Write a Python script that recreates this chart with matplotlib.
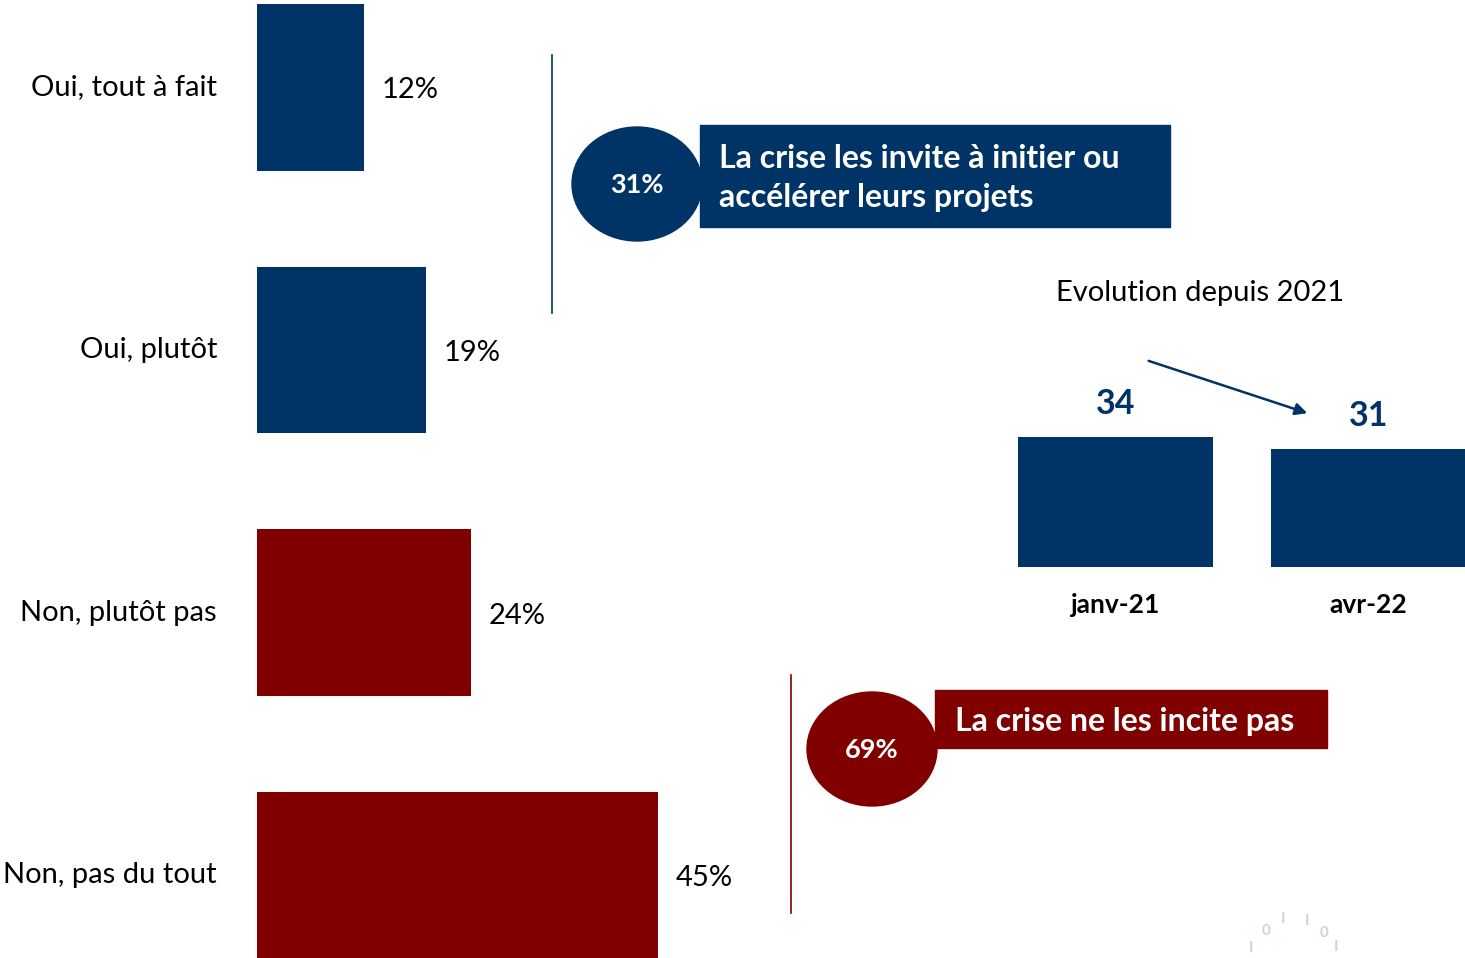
import matplotlib

matplotlib.use("Agg")

import matplotlib.pyplot as plt
from matplotlib.patches import Ellipse, FancyArrowPatch, Rectangle

BLUE = "#003366"
RED = "#800000"

CATEGORIES = ["Oui, tout à fait", "Oui, plutôt", "Non, plutôt pas", "Non, pas du tout"]
VALUES = [12, 19, 24, 45]
BAR_COLORS = [BLUE, BLUE, RED, RED]

EVOL_LABELS = ["janv-21", "avr-22"]
EVOL_VALUES = [34, 31]
EVOL_TITLE = "Evolution depuis 2021"

YES_TEXT = "La crise les invite à initier ou\naccélérer leurs projets"
NO_TEXT = "La crise ne les incite pas"

W, H = 1465, 958
FONT = ["Lato", "DejaVu Sans"]
plt.rcParams["font.family"] = FONT


def px_rect(left, top, right, bottom):
    return [left / W, 1 - bottom / H, (right - left) / W, (bottom - top) / H]


fig = plt.figure(figsize=(W / 100, H / 100), dpi=100, facecolor="white")

# main horizontal bars
px_per_pct = 8.9
ax = fig.add_axes(px_rect(257, 0, 257 + px_per_pct * 60, H))
ax.barh(range(len(VALUES)), VALUES, height=0.635, color=BAR_COLORS)
ax.set_xlim(0, 60)
ax.set_ylim(3.316, -0.333)
ax.axis("off")
for i, (cat, val) in enumerate(zip(CATEGORIES, VALUES)):
    ax.annotate(cat, (0, i), xytext=(-40, 0), textcoords="offset pixels",
                ha="right", va="center", fontsize=21, color="black")
    ax.annotate(f"{val}%", (val, i), xytext=(18, -3), textcoords="offset pixels",
                ha="left", va="center", fontsize=21, color="black")

# evolution mini chart
unit = 253
bx = fig.add_axes(px_rect(1115.5 - unit / 2, 567 - 40 * 3.82, W, 567))
bars = bx.bar(range(len(EVOL_VALUES)), EVOL_VALUES, width=0.77, color=BLUE)
bx.set_xlim(-0.5, -0.5 + (W - (1115.5 - unit / 2)) / unit)
bx.set_ylim(0, 40)
for b, v in zip(bars, EVOL_VALUES):
    bx.annotate(str(v), (b.get_x() + b.get_width() / 2, v), xytext=(0, 33),
                textcoords="offset pixels", ha="center", va="center",
                fontsize=24.5, fontweight="bold", color=BLUE)
bx.set_xticks(range(len(EVOL_LABELS)), EVOL_LABELS, fontsize=19, fontweight="bold")
bx.tick_params(axis="x", length=0, pad=19)
bx.set_yticks([])
for s in bx.spines.values():
    s.set_visible(False)
bx.patch.set_alpha(0)

# overlay for callouts and decorations (pixel coordinates)
ov = fig.add_axes([0, 0, 1, 1])
ov.set_xlim(0, W)
ov.set_ylim(H, 0)
ov.axis("off")
ov.patch.set_alpha(0)

yes_total = VALUES[0] + VALUES[1]
no_total = VALUES[2] + VALUES[3]

ov.plot([552, 552], [55, 313], color=BLUE, lw=1.2)
ov.add_patch(Ellipse((637, 184), 130, 114, color=BLUE))
ov.add_patch(Rectangle((700, 125), 470, 102, color=BLUE))
ov.text(637, 185, f"{yes_total}%", ha="center", va="center", fontsize=19.5,
        fontweight="bold", color="white")
ov.text(719, 178, YES_TEXT, ha="left", va="center", fontsize=23,
        fontweight="bold", color="white", linespacing=1.42)

ov.plot([791, 791], [675, 913], color=RED, lw=1.2)
ov.add_patch(Ellipse((872, 749), 130, 114, color=RED))
ov.add_patch(Rectangle((935, 690), 392, 58, color=RED))
ov.text(872, 750, f"{no_total}%", ha="center", va="center", fontsize=19.5,
        fontweight="bold", color="white")
ov.text(955, 721, NO_TEXT, ha="left", va="center", fontsize=23,
        fontweight="bold", color="white")

ov.text(1200, 293, EVOL_TITLE, ha="center", va="center", fontsize=21, color="black")
ov.add_patch(FancyArrowPatch((1146, 360), (1310, 414), arrowstyle="-|>",
                             mutation_scale=18, lw=1.8, color=BLUE))

# faint logo fragments in the corner
for x, y, ch in [(1251, 948, "I"), (1266, 931, "0"), (1283, 919, "I"),
                 (1307, 921, "I"), (1324, 933, "0"), (1336, 947, "I")]:
    ov.text(x, y, ch, ha="center", va="center", fontsize=11, fontweight="bold",
            color="#c9d9c9")

fig.savefig("out.png", dpi=100, facecolor="white")
plt.close(fig)
